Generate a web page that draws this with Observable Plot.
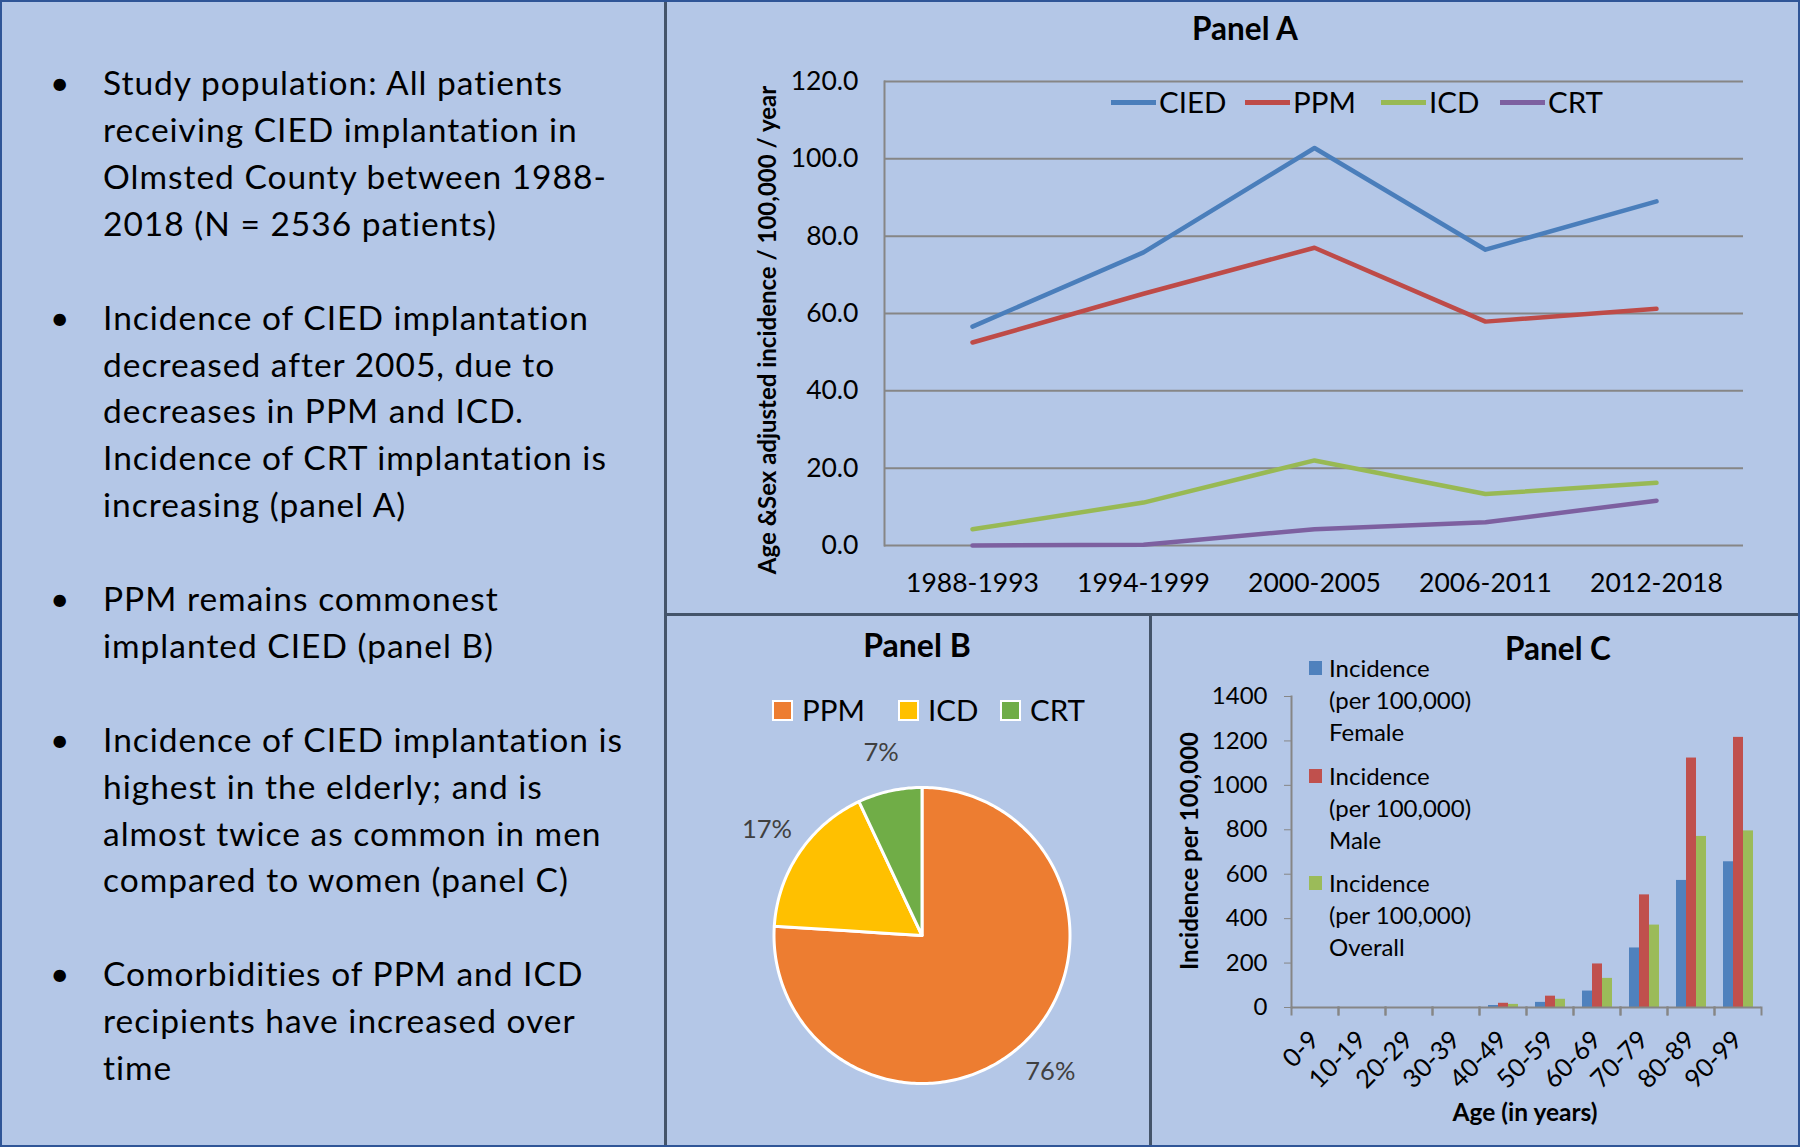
<!DOCTYPE html>
<html>
<head>
<meta charset="utf-8">
<script src="https://cdn.jsdelivr.net/npm/d3@7"></script>
<script src="https://cdn.jsdelivr.net/npm/@observablehq/plot@0.6"></script>
<style>
  html, body { margin: 0; padding: 0; background: #b4c7e7; }
  #root { position: relative; width: 1800px; height: 1147px; background: #b4c7e7; overflow: hidden;
          font-family: Lato, "Open Sans", sans-serif; color: #000; }
  .abs { position: absolute; }
  .ctr { position: absolute; transform: translate(-50%, -50%); white-space: nowrap; line-height: 1; }
  .bold { font-weight: bold; }
  .rot { position: absolute; transform: translate(-50%, -50%) rotate(-90deg); white-space: nowrap; line-height: 1; font-weight: bold; }
  .bline { position: absolute; left: 0; height: 46.9px; line-height: 46.9px; font-size: 33.5px; letter-spacing: 1px; white-space: nowrap; }
  .bline .dot { position: absolute; left: 50px; letter-spacing: 0; }
  .bline .txt { position: absolute; left: 103px; }
  .plotbox { position: absolute; }
  .plotbox svg { overflow: visible; }
</style>
</head>
<body>
<div id="root"></div>
<script>
// ---------------- DATA ----------------
const bulletLines = [
  ["Study population: All patients", "receiving CIED implantation in", "Olmsted County between 1988-", "2018 (N = 2536 patients)"],
  ["Incidence of CIED implantation", "decreased after 2005, due to", "decreases in PPM and ICD.", "Incidence of CRT implantation is", "increasing (panel A)"],
  ["PPM remains commonest", "implanted CIED (panel B)"],
  ["Incidence of CIED implantation is", "highest in the elderly; and is", "almost twice as common in men", "compared to women (panel C)"],
  ["Comorbidities of PPM and ICD", "recipients have increased over", "time"]
];

// Panel A
const periods = ["1988-1993", "1994-1999", "2000-2005", "2006-2011", "2012-2018"];
const seriesA = ["CIED", "PPM", "ICD", "CRT"];
const ciedValues = [56.6, 75.8, 102.8, 76.5, 89.0];
const ppmValues = [52.5, 65.1, 77.0, 57.9, 61.2];
const icdValues = [4.2, 11.1, 22.0, 13.3, 16.2];
const crtValues = [0.0, 0.2, 4.2, 6.0, 11.6];
const yTicksA = [0, 20, 40, 60, 80, 100, 120];
const colorsA = ["#4a7ebb", "#be4b48", "#98b954", "#7d60a0"];

// Panel B
const pieLabels = ["PPM", "ICD", "CRT"];
const pieValues = [76, 17, 7];
const pieColors = ["#ed7d31", "#ffc000", "#70ad47"];

// Panel C
const ages = ["0-9", "10-19", "20-29", "30-39", "40-49", "50-59", "60-69", "70-79", "80-89", "90-99"];
const barSeries = ["Female", "Male", "Overall"];
const femaleValues = [0, 0, 0, 0, 9, 23, 74, 268, 572, 656];
const maleValues = [0, 0, 0, 0, 19, 51, 196, 507, 1123, 1216];
const overallValues = [0, 0, 0, 0, 14, 37, 131, 371, 770, 795];
const yTicksC = [0, 200, 400, 600, 800, 1000, 1200, 1400];
const colorsC = ["#4f81bd", "#c0504d", "#9bbb59"];

// ---------------- LAYOUT HELPERS ----------------
const root = document.getElementById("root");
const gray = "#868686";
function el(tag, cls, style, text) {
  const e = document.createElement(tag);
  if (cls) e.className = cls;
  Object.assign(e.style, style || {});
  if (text != null) e.textContent = text;
  root.appendChild(e);
  return e;
}
const baseStyle = { background: "transparent", fontFamily: "Lato, 'Open Sans', sans-serif", color: "#000", overflow: "visible" };

// ---------------- LEFT TEXT ----------------
{
  const box = el("div", "abs", { left: "0px", top: "59.2px", width: "664px" });
  let row = 0;
  bulletLines.forEach((lines) => {
    lines.forEach((line, li) => {
      const d = document.createElement("div");
      d.className = "bline";
      d.style.top = (row * 46.9) + "px";
      if (li === 0) {
        const dot = document.createElement("span"); dot.className = "dot"; dot.textContent = "•"; d.appendChild(dot);
      }
      const t = document.createElement("span"); t.className = "txt"; t.textContent = line; d.appendChild(t);
      box.appendChild(d);
      row++;
    });
    row++;
  });
}

// ---------------- PANEL A ----------------
{
  const valuesA = [ciedValues, ppmValues, icdValues, crtValues];
  const dataA = seriesA.flatMap((s, i) => periods.map((p, j) => ({ series: s, period: p, value: valuesA[i][j] })));
  const plotA = Plot.plot({
    width: 1134, height: 614,
    marginLeft: 218, marginRight: 57, marginTop: 81, marginBottom: 69,
    style: { ...baseStyle, fontSize: "25px" },
    x: { domain: periods, type: "point", padding: 0.5 },
    y: { domain: [0, 120] },
    color: { domain: seriesA, range: colorsA },
    marks: [
      Plot.ruleY(yTicksA, { stroke: gray, strokeWidth: 2 }),
      Plot.frame({ anchor: "left", stroke: gray, strokeWidth: 2 }),
      Plot.axisY({ ticks: yTicksA, tickSize: 0, tickPadding: 26, tickFormat: d => d.toFixed(1), label: null, fontSize: 26.5 }),
      Plot.axisX({ tickSize: 0, tickPadding: 28, label: null, fontSize: 26.5 }),
      Plot.line(dataA, { x: "period", y: "value", stroke: "series", z: "series", strokeWidth: 4.5, strokeLinejoin: "round", strokeLinecap: "round" })
    ]
  });
  const box = el("div", "plotbox", { left: "666px", top: "0px" });
  box.appendChild(plotA);

  el("div", "ctr bold", { left: "1245px", top: "29px", fontSize: "31.5px" }, "Panel A");
  el("div", "rot", { left: "767px", top: "330px", fontSize: "24px" }, "Age &Sex adjusted incidence / 100,000 / year");

  // legend
  const legendX = [1111, 1245, 1381, 1500];
  seriesA.forEach((s, i) => {
    el("div", "abs", { left: legendX[i] + "px", top: "100px", width: "45px", height: "4.5px", background: colorsA[i] });
    el("div", "abs", { left: (legendX[i] + 48) + "px", top: "86px", fontSize: "29.5px", lineHeight: "32px", whiteSpace: "nowrap" }, s);
  });
}

// ---------------- PANEL B ----------------
{
  const total = d3.sum(pieValues);
  let acc = 0;
  const slices = pieLabels.map((name, i) => {
    const a0 = acc / total * 360;
    acc += pieValues[i];
    const a1 = acc / total * 360;
    const ring = [[0, 90]];
    for (let a = a0; a < a1; a += 1) ring.push([180 - a, 0]);
    ring.push([180 - a1, 0]);
    ring.push([0, 90]);
    return { type: "Feature", properties: { name, value: pieValues[i], mid: (a0 + a1) / 2 },
             geometry: { type: "Polygon", coordinates: [ring] } };
  });
  const plotB = Plot.plot({
    width: 484, height: 533,
    marginLeft: 107.5, marginRight: 80.5, marginTop: 173, marginBottom: 64,
    style: { ...baseStyle, fontSize: "25px" },
    projection: { type: "azimuthal-equidistant", rotate: [0, -90], clip: false,
                  domain: d3.geoCircle().center([0, 90]).radius(90)() },
    color: { domain: pieLabels, range: pieColors },
    marks: [
      Plot.geo(slices, { fill: d => d.properties.name, stroke: "white", strokeWidth: 3 }),
      Plot.text(slices, { x: d => 180 - d.properties.mid, y: -24, text: d => d.properties.value + "%", fill: "#404040", fontSize: 25.5 })
    ]
  });
  const box = el("div", "plotbox", { left: "666px", top: "614px" });
  box.appendChild(plotB);

  el("div", "ctr bold", { left: "917px", top: "645px", fontSize: "32px" }, "Panel B");
  const sqX = [772, 898, 1000];
  pieLabels.forEach((s, i) => {
    el("div", "abs", { left: sqX[i] + "px", top: "700px", width: "17px", height: "17px", background: pieColors[i], border: "2px solid #fff" });
    el("div", "abs", { left: (sqX[i] + 30) + "px", top: "693px", fontSize: "29.5px", lineHeight: "34px", whiteSpace: "nowrap" }, s);
  });
}

// ---------------- PANEL C ----------------
{
  const valuesC = [femaleValues, maleValues, overallValues];
  const dataC = barSeries.flatMap((s, i) => ages.map((a, j) => ({ series: s, age: a, value: valuesC[i][j] })));
  const plotC = Plot.plot({
    width: 650, height: 533,
    marginLeft: 137, marginRight: 36, marginTop: 82, marginBottom: 140,
    style: { ...baseStyle, fontSize: "25.5px" },
    fx: { domain: ages, padding: 0, axis: "bottom", tickRotate: -45, tickSize: 0, tickPadding: 28, label: null },
    x: { domain: barSeries, paddingInner: 0, paddingOuter: 0.79, axis: null },
    y: { domain: [0, 1400] },
    color: { domain: barSeries, range: colorsC },
    marks: [
      Plot.barY(dataC, { fx: "age", x: "series", y: "value", fill: "series" }),
      Plot.ruleY([0], { stroke: gray, strokeWidth: 2 }),
      Plot.frame({ anchor: "left", stroke: gray, strokeWidth: 2, insetTop: 311, insetBottom: -7 }),
      Plot.frame({ anchor: "right", stroke: gray, strokeWidth: 2, insetTop: 311, insetBottom: -7 }),
      Plot.frame({ anchor: "left", stroke: gray, strokeWidth: 2, facet: "super" }),
      Plot.axisY({ ticks: yTicksC, tickSize: 7, tickPadding: 17, tickFormat: d => String(d), stroke: gray, fill: "#000", label: null, fontSize: 24 })
    ]
  });
  const box = el("div", "plotbox", { left: "1150px", top: "614px" });
  box.appendChild(plotC);

  el("div", "ctr bold", { left: "1558px", top: "649px", fontSize: "31.5px" }, "Panel C");
  el("div", "rot", { left: "1189px", top: "851px", fontSize: "24px" }, "Incidence per 100,000");
  el("div", "ctr bold", { left: "1525px", top: "1112px", fontSize: "24.5px" }, "Age (in years)");

  const blockTop = [668, 775.6, 882.6];
  barSeries.forEach((s, i) => {
    el("div", "abs", { left: "1309px", top: (blockTop[i] - 7) + "px", width: "13px", height: "14px", background: colorsC[i] });
    const lines = ["Incidence", "(per 100,000)", s];
    lines.forEach((ln, k) => {
      el("div", "abs", { left: "1329px", top: (blockTop[i] - 16 + k * 32) + "px", fontSize: "24px", lineHeight: "32px", whiteSpace: "nowrap" }, ln);
    });
  });
}

// ---------------- DIVIDERS & BORDER ----------------
el("div", "abs", { left: "664px", top: "0px", width: "3px", height: "1147px", background: "#44546a" });
el("div", "abs", { left: "666px", top: "613px", width: "1134px", height: "3px", background: "#44546a" });
el("div", "abs", { left: "1149px", top: "614px", width: "3px", height: "533px", background: "#44546a" });
el("div", "abs", { left: "0px", top: "0px", width: "1800px", height: "1147px", boxSizing: "border-box", border: "2px solid #2f5597", pointerEvents: "none" });
</script>
</body>
</html>
